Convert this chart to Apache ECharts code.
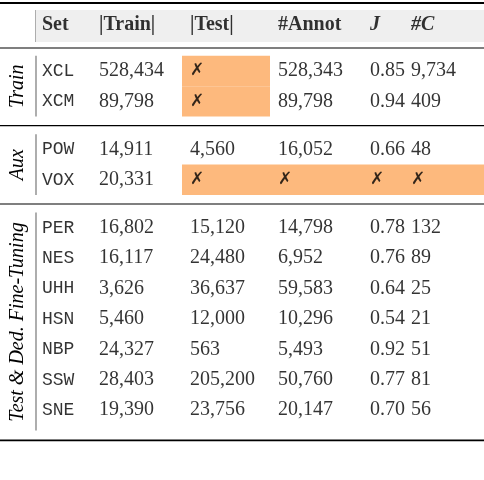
<!DOCTYPE html><html><head><meta charset="utf-8"><script src="https://cdn.jsdelivr.net/npm/echarts@6/dist/echarts.min.js"></script>
<style>html,body{margin:0;background:#fff}#c{width:484px;height:480px}</style></head><body><div id="c"></div><script>
const groups=['Train','Aux','Test & Ded. Fine-Tuning'];
const groupSizes=[2,2,7];
const sets=['XCL','XCM','POW','VOX','PER','NES','UHH','HSN','NBP','SSW','SNE'];
const trainN=['528,434','89,798','14,911','20,331','16,802','16,117','3,626','5,460','24,327','28,403','19,390'];
const testN=['✗','✗','4,560','✗','15,120','24,480','36,637','12,000','563','205,200','23,756'];
const annot=['528,343','89,798','16,052','✗','14,798','6,952','59,583','10,296','5,493','50,760','20,147'];
const jvals=['0.85','0.94','0.66','✗','0.78','0.76','0.64','0.54','0.92','0.77','0.70'];
const cvals=['9,734','409','48','✗','132','89','25','21','51','81','56'];
const headers=['Set','|Train|','|Test|','#Annot','J','#C'];
const highlighted=[[0,2],[1,2],[3,2],[3,3],[3,4],[3,5]];
const colX=[42,99,190,278,370,411],colEdge=[36,91,182,270,362,402,484];
const rowY=[];
for(let g=0;g<groupSizes.length;g++)for(let k=0;k<groupSizes[g];k++){rowY.push(71+rowY.length*30.4+g*17.6);}
const cols=[sets,trainN,testN,annot,jvals,cvals];
const serif='Liberation Serif',mono='Liberation Mono';
const txt=[];
headers.forEach((h,c)=>txt.push({value:[colX[c],25],label:{formatter:h,fontWeight:'bold',fontStyle:(c>=4?'italic':'normal'),fontFamily:serif,fontSize:20}}));
cols.forEach((col,c)=>col.forEach((v,r)=>txt.push({value:[colX[c],rowY[r]],label:{formatter:v,fontFamily:c==0?mono:(v=='✗'?'DejaVu Sans':serif),fontSize:c==0?18:(v=='✗'?17:20)}})));
const rects=highlighted.map(([r,c])=>[colEdge[c],colEdge[c+1],rowY[r]-15.2,rowY[r]+15.2]);
rects.push([36,484,10,42]);
const chart=echarts.init(document.getElementById('c'));
chart.setOption({animation:false,
grid:{left:0,right:0,top:0,bottom:0},
xAxis:{type:'value',min:0,max:484,show:false},
yAxis:{type:'value',min:0,max:480,inverse:true,show:false},
series:[{type:'custom',renderItem:(p,api)=>{const a=api.coord([api.value(0),api.value(2)]),b=api.coord([api.value(1),api.value(3)]);
 const isHead=p.dataIndex==rects.length-1;
 return {type:'rect',shape:{x:a[0],y:a[1],width:b[0]-a[0],height:b[1]-a[1]},style:{fill:isHead?'#efefef':'#fdb97d'}};},
 data:rects,encode:{x:[0,1],y:[2,3]},z:1},
{type:'scatter',symbolSize:0,z:5,data:txt,label:{show:true,position:'inside',align:'left',verticalAlign:'middle',color:'#000',fontSize:20,fontFamily:serif}}]});
const g=[];
function hl(y,w){g.push({type:'line',shape:{x1:0,y1:y,x2:484,y2:y},style:{stroke:'#000',lineWidth:w}});}
hl(3,2);hl(48,1.2);
let start=0;
groupSizes.forEach((n,gi2)=>{const top=rowY[start]-15.2,bot=rowY[start+n-1]+15.2;
 g.push({type:'line',shape:{x1:36,y1:top,x2:36,y2:bot+(gi2==2?5:0)},style:{stroke:'#777',lineWidth:1.2}});
 const mid=(top+bot)/2+(gi2==2?3:0);
 g.push({type:'text',x:18,y:mid,rotation:Math.PI/2,style:{text:groups[gi2],fontFamily:serif,fontStyle:'italic',fontSize:20,fill:'#000',align:'center',verticalAlign:'middle'}});
 const yEnd=gi2==2?bot+15:bot+9;hl(yEnd,gi2==2?1.8:1.2);start+=n;});
g.push({type:'line',shape:{x1:36,y1:10,x2:36,y2:42},style:{stroke:'#777',lineWidth:1.2}});
chart.setOption({graphic:g});
</script></body></html>
